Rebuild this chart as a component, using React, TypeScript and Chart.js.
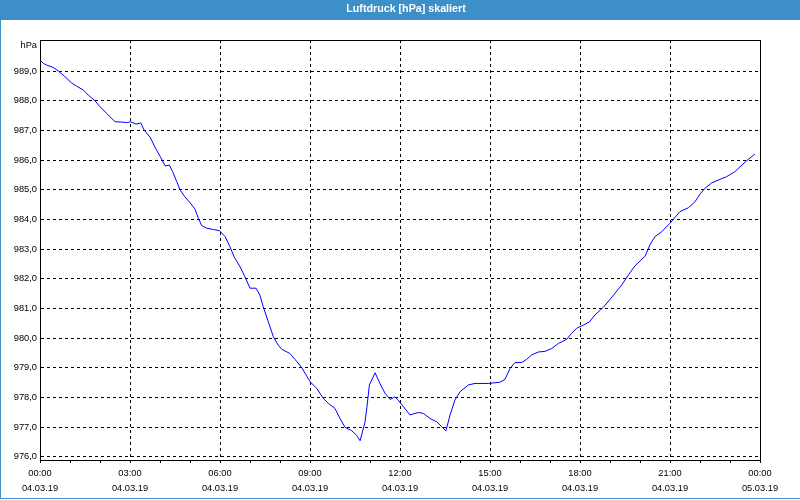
import React, { useEffect, useRef } from 'react';
import { Chart, registerables } from 'chart.js';

Chart.register(...registerables);

const TITLE = 'Luftdruck [hPa] skaliert';
const UNIT = 'hPa';

// time in hours since 04.03.19 00:00
const hours = [
  0.0, 0.11, 0.22, 0.44, 0.61, 0.83, 1.06, 1.22, 1.44, 1.61, 1.83, 2.0, 2.22, 2.5, 2.72, 2.91,
  3.02, 3.2, 3.36, 3.47, 3.67, 3.87, 4.0, 4.17, 4.31, 4.42, 4.56, 4.67, 4.83, 5.0, 5.17, 5.28,
  5.39, 5.56, 5.78, 5.98, 6.17, 6.33, 6.47, 6.67, 6.83, 7.0, 7.2, 7.33, 7.44, 7.61, 7.78, 7.94,
  8.06, 8.33, 8.5, 8.72, 9.0, 9.22, 9.44, 9.61, 9.83, 10.0, 10.17, 10.39, 10.56, 10.67, 10.83,
  10.9, 10.98, 11.17, 11.33, 11.5, 11.67, 11.83, 11.94, 12.11, 12.33, 12.61, 12.78, 13.0, 13.22,
  13.39, 13.53, 13.67, 13.83, 14.0, 14.28, 14.5, 14.94, 15.33, 15.5, 15.67, 15.83, 16.06, 16.22,
  16.39, 16.61, 16.83, 17.06, 17.28, 17.56, 17.72, 17.89, 18.06, 18.31, 18.5, 18.78, 19.0, 19.39,
  19.61, 19.83, 20.17, 20.33, 20.5, 20.72, 21.0, 21.33, 21.61, 21.83, 22.0, 22.17, 22.39, 22.67,
  22.89, 23.17, 23.33, 23.56, 23.83,
];

const pressure = [
  989.37, 989.26, 989.2, 989.12, 989.0, 988.81, 988.59, 988.49, 988.36, 988.19, 988.0, 987.8,
  987.57, 987.29, 987.28, 987.26, 987.29, 987.21, 987.25, 987.01, 986.77, 986.36, 986.13, 985.8,
  985.83, 985.61, 985.27, 984.99, 984.76, 984.56, 984.34, 984.03, 983.79, 983.7, 983.66, 983.62,
  983.42, 983.08, 982.74, 982.4, 982.07, 981.68, 981.68, 981.45, 981.06, 980.55, 980.04, 979.76,
  979.62, 979.48, 979.28, 979.01, 978.53, 978.31, 977.97, 977.8, 977.63, 977.29, 976.99, 976.88,
  976.71, 976.54, 977.15, 977.7, 978.42, 978.83, 978.47, 978.14, 977.93, 978.02, 977.91, 977.69,
  977.41, 977.49, 977.46, 977.29, 977.18, 977.01, 976.87, 977.41, 977.91, 978.19, 978.42, 978.47,
  978.47, 978.51, 978.61, 978.98, 979.17, 979.18, 979.28, 979.43, 979.53, 979.55, 979.65, 979.82,
  979.96, 980.16, 980.33, 980.41, 980.54, 980.78, 981.04, 981.3, 981.79, 982.12, 982.43, 982.76,
  983.14, 983.42, 983.58, 983.87, 984.26, 984.39, 984.59, 984.85, 985.05, 985.23, 985.35, 985.44,
  985.61, 985.77, 985.98, 986.2,
];

const xTickHours = [0, 1, 2, 3, 4, 5, 6, 7, 8, 9, 10, 11, 12, 13, 14, 15, 16, 17, 18, 19, 20, 21, 22, 23, 24];
const xTimeLabels = ['00:00', '03:00', '06:00', '09:00', '12:00', '15:00', '18:00', '21:00', '00:00'];
const xDateLabels = ['04.03.19', '04.03.19', '04.03.19', '04.03.19', '04.03.19', '04.03.19', '04.03.19', '04.03.19', '05.03.19'];
const yTicks = [976, 977, 978, 979, 980, 981, 982, 983, 984, 985, 986, 987, 988, 989];
const yMin = 975.89;
const yMax = 990.045;

const FONT = "'Liberation Sans', Arial, sans-serif";
const FRAME = '#3d8fc7';

const framePlugin = {
  id: 'frame',
  beforeDraw(chart: any) {
    const ctx = chart.ctx;
    const w = chart.width;
    const h = chart.height;
    ctx.save();
    ctx.fillStyle = '#ffffff';
    ctx.fillRect(0, 0, w, h);
    ctx.fillStyle = FRAME;
    ctx.fillRect(0, 0, w, 20);
    ctx.fillRect(0, 20, 1, h - 21);
    ctx.fillRect(0, h - 2, w, 1);
    ctx.fillStyle = '#ffffff';
    ctx.font = `bold 10.7px ${FONT}`;
    ctx.textAlign = 'center';
    ctx.textBaseline = 'middle';
    ctx.fillText(TITLE, 406, 9);
    ctx.restore();
  },
  afterDraw(chart: any) {
    const ctx = chart.ctx;
    const a = chart.chartArea;
    ctx.save();
    ctx.strokeStyle = '#000000';
    ctx.lineWidth = 1;
    ctx.setLineDash([]);
    ctx.strokeRect(Math.round(a.left) + 0.5, Math.round(a.top) + 0.5, Math.round(a.right - a.left), Math.round(a.bottom - a.top));
    ctx.fillStyle = '#000000';
    ctx.font = `9.3px ${FONT}`;
    ctx.textAlign = 'right';
    ctx.textBaseline = 'middle';
    ctx.fillText(UNIT, a.left - 3, a.top + 5);
    ctx.restore();
  },
};

export default function App() {
  const ref = useRef<HTMLCanvasElement | null>(null);

  useEffect(() => {
    document.body.style.margin = '0';
    const canvas = ref.current;
    if (!canvas) return;
    const chart = new Chart(canvas, {
      type: 'line',
      data: {
        datasets: [
          {
            data: hours.map((h, i) => ({ x: h, y: pressure[i] })),
            borderColor: '#0000ff',
            borderWidth: 1,
            pointRadius: 0,
            tension: 0,
            fill: false,
          },
        ],
      },
      options: {
        responsive: false,
        animation: false,
        devicePixelRatio: 1,
        layout: { padding: { top: 40, right: 40, left: 0, bottom: 0 } },
        plugins: {
          legend: { display: false },
          tooltip: { enabled: false },
          title: { display: false },
        },
        scales: {
          x: {
            type: 'linear',
            min: 0,
            max: 24,
            afterBuildTicks: (scale: any) => {
              scale.ticks = xTickHours.map((v) => ({ value: v }));
            },
            afterFit: (scale: any) => {
              scale.height = 40;
            },
            ticks: {
              autoSkip: false,
              maxRotation: 0,
              minRotation: 0,
              padding: 3,
              color: '#000000',
              font: { family: FONT, size: 9.3, lineHeight: 1.613 },
              callback: (v: any) => {
                const n = Number(v);
                if (n % 3 !== 0) return '';
                const i = n / 3;
                return [xTimeLabels[i], xDateLabels[i]];
              },
            },
            grid: {
              color: (c: any) => (c.tick && c.tick.value % 3 === 0 ? '#000000' : 'rgba(0,0,0,0)'),
              lineWidth: 1,
              drawTicks: true,
              tickLength: 3,
              tickColor: '#000000',
              tickWidth: 1,
              tickBorderDash: [],
            },
            border: { display: true, color: '#000000', width: 1, dash: [3, 3] },
          },
          y: {
            type: 'linear',
            min: yMin,
            max: yMax,
            afterBuildTicks: (scale: any) => {
              scale.ticks = yTicks.map((v) => ({ value: v }));
            },
            afterFit: (scale: any) => {
              scale.width = 40;
            },
            ticks: {
              padding: 3,
              color: '#000000',
              font: { family: FONT, size: 9.3 },
              callback: (v: any) => Number(v).toFixed(1).replace('.', ','),
            },
            grid: {
              color: '#000000',
              lineWidth: 1,
              drawTicks: false,
            },
            border: { display: true, color: '#000000', width: 1, dash: [3, 3] },
          },
        },
      },
      plugins: [framePlugin],
    } as any);
    return () => chart.destroy();
  }, []);

  return (
    <div style={{ position: 'absolute', left: 0, top: 0, width: 800, height: 500 }}>
      <canvas ref={ref} width={800} height={500} />
    </div>
  );
}
